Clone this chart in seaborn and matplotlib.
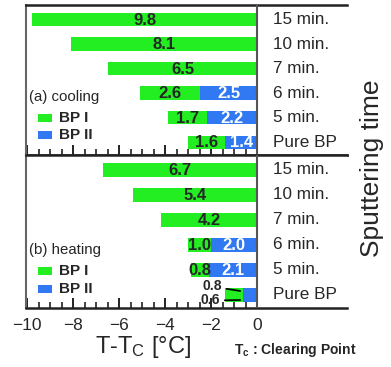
import matplotlib
matplotlib.use('Agg')
import matplotlib.pyplot as plt
from matplotlib.ticker import FixedLocator
from matplotlib.patches import Rectangle
import seaborn as sns
import pandas as pd
import numpy as np

times = ['15 min.', '10 min.', '7 min.', '6 min.', '5 min.', 'Pure BP']
cool_bp1 = [9.8, 8.1, 6.5, 2.6, 1.7, 1.6]
cool_bp2 = [0, 0, 0, 2.5, 2.2, 1.4]
heat_bp1 = [6.7, 5.4, 4.2, 1.0, 0.8, 0.8]
heat_bp2 = [0, 0, 0, 2.0, 2.1, 0.6]

green = '#22ee22'
blue = '#3079f2'

sns.set_style('white')
plt.rcParams['font.family'] = ['Liberation Sans', 'DejaVu Sans']
plt.rcParams['mathtext.default'] = 'regular'

fig = plt.figure(figsize=(3.91, 3.67), dpi=100)
L, R = 26 / 391, 347 / 391
ax_a = fig.add_axes([L, 1 - 155 / 367, R - L, 150 / 367])
ax_b = fig.add_axes([L, 1 - 308 / 367, R - L, 153 / 367])


def panel(ax, bp1, bp2, title, ty):
    df = pd.DataFrame({'time': times, 'bp1': bp1, 'bp2': bp2})
    df['total'] = -(df['bp1'] + df['bp2'])
    df['neg2'] = -df['bp2']
    sns.barplot(data=df, x='total', y='time', orient='h', color=green,
                saturation=1, width=0.55, linewidth=0, errorbar=None, ax=ax)
    sns.barplot(data=df, x='neg2', y='time', orient='h', color=blue,
                saturation=1, width=0.55, linewidth=0, errorbar=None, ax=ax)
    ax.set_xlim(-10.05, 3.9)
    ax.set_ylim(5.52, -0.6)
    ax.set_yticks([])
    ax.set_xlabel('')
    ax.set_ylabel('')
    ax.axvline(0, color='#555555', lw=1.5, zorder=5)
    for s in ['top', 'bottom']:
        ax.spines[s].set_color('#222222')
        ax.spines[s].set_linewidth(1.8)
    ax.spines['left'].set_color('#666666')
    ax.spines['left'].set_linewidth(1.5)
    ax.spines['right'].set_visible(False)
    ax.set_xticks(np.arange(-10, 1, 2))
    ax.xaxis.set_minor_locator(FixedLocator(np.arange(-10, 0.1, 0.5)))
    ax.tick_params(axis='x', which='major', direction='in', length=7,
                   width=1.4, color='#222222', labelsize=12.5, pad=7,
                   bottom=True)
    ax.tick_params(axis='x', which='minor', direction='in', length=4,
                   width=1.2, color='#222222', bottom=True)
    for i, t in enumerate(times):
        ax.text(0.7, i, t, fontsize=12.3, va='center', ha='left')
        g1, g2 = bp1[i], bp2[i]
        if t == 'Pure BP' and g2 < 1:
            continue
        ax.text(-g2 - g1 / 2, i + 0.02, f'{g1:.1f}', fontsize=12,
                fontweight='bold', ha='center', va='center')
        if g2 > 0:
            ax.text(-g2 / 2, i + 0.02, f'{g2:.1f}', fontsize=12,
                    fontweight='bold', ha='center', va='center', color='white')
    # legend
    ax.text(-9.92, ty, title, fontsize=10.8, va='center', ha='left')
    for k, (c, lab) in enumerate([(green, 'BP I'), (blue, 'BP II')]):
        y = ty + 0.85 + k * 0.7
        ax.add_patch(Rectangle((-9.55, y - 0.16), 0.62, 0.32, color=c,
                               lw=0))
        ax.text(-8.6, y, lab, fontsize=11, fontweight='bold', va='center',
                ha='left')


panel(ax_a, cool_bp1, cool_bp2, '(a) cooling', 3.15)
panel(ax_b, heat_bp1, heat_bp2, '(b) heating', 3.2)
ax_a.tick_params(axis='x', labelbottom=False)

# small pure BP labels in heating panel
ax_b.annotate(f'{heat_bp1[5]:.1f}', xy=(-0.74, 4.84), xytext=(-1.96, 4.66),
              fontsize=10, fontweight='bold', ha='center', va='center',
              arrowprops=dict(arrowstyle='-', lw=1.2, color='black',
                              shrinkA=1, shrinkB=0))
ax_b.annotate(f'{heat_bp2[5]:.1f}', xy=(-0.74, 5.2), xytext=(-2.04, 5.22),
              fontsize=10, fontweight='bold', ha='center', va='center',
              arrowprops=dict(arrowstyle='-', lw=1.2, color='black',
                              shrinkA=1, shrinkB=0))

fig.text(143 / 391, 1 - 347 / 367, 'T-T$_C$ [°C]', fontsize=17,
         ha='center', va='center')
fig.text(295 / 391, 1 - 350 / 367, 'T$_c$ : Clearing Point', fontsize=10,
         fontweight='bold', ha='center', va='center')
fig.text(372 / 391, 1 - 168 / 367, 'Sputtering time', fontsize=19,
         rotation=90, ha='center', va='center')

fig.savefig('out.png', dpi=100)
